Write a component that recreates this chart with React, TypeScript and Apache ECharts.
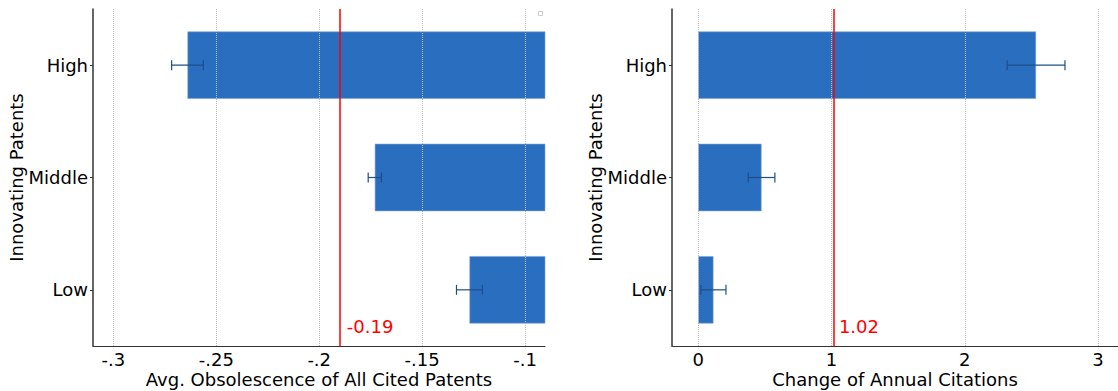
import React, { useEffect, useRef } from "react";
import * as echarts from "echarts";

const categories = ["High", "Middle", "Low"];
const obsolescence = [-0.264, -0.173, -0.127];
const obsolescenceErr = [0.0077, 0.0032, 0.0063];
const obsolescenceMean = -0.189;
const obsolescenceTicks = [-0.3, -0.25, -0.2, -0.15, -0.1];

const citations = [2.535, 0.475, 0.114];
const citationsErr = [0.217, 0.1, 0.094];
const citationsMean = 1.018;
const citationsTicks = [0, 1, 2, 3];

const FONT = "DejaVu Sans";
const FS = 18;
const BAR = "#2a6ebf";
const ERR = "#1f4e89";
const GRID = "#bdbdbd";

function fmtObs(v: number) {
  const s = v.toString();
  return s.replace("0.", ".");
}

export default function App() {
  const ref = useRef<HTMLDivElement>(null);
  useEffect(() => {
    if (!ref.current) return;
    const chart = echarts.init(ref.current, undefined, { renderer: "svg" });

    const errRender = (params: any, api: any) => {
      const idx = api.value(0);
      const lo = api.value(1);
      const hi = api.value(2);
      const p1 = api.coord([lo, idx]);
      const p2 = api.coord([hi, idx]);
      const h = 5;
      const st = { stroke: ERR, lineWidth: 1.2 };
      return {
        type: "group",
        children: [
          { type: "line", shape: { x1: p1[0], y1: p1[1], x2: p2[0], y2: p2[1] }, style: st },
          { type: "line", shape: { x1: p1[0], y1: p1[1] - h, x2: p1[0], y2: p1[1] + h }, style: st },
          { type: "line", shape: { x1: p2[0], y1: p2[1] - h, x2: p2[0], y2: p2[1] + h }, style: st },
        ],
      };
    };

    const yAxisBase = (gridIndex: number) => ({
      type: "category",
      gridIndex,
      data: categories,
      inverse: true,
      name: "Innovating Patents",
      nameLocation: "middle",
      nameGap: 68,
      nameRotate: 90,
      nameMoveOverlap: false,
      nameTextStyle: { fontFamily: FONT, fontSize: FS, lineHeight: 18, color: "#000" },
      axisLine: { show: true, onZero: false, lineStyle: { color: "#333", width: 1.5 } },
      axisTick: { show: true, alignWithLabel: true, length: 3, lineStyle: { color: "#333" } },
      axisLabel: { fontFamily: FONT, fontSize: FS, lineHeight: 18, color: "#000", margin: 5 },
      splitLine: { show: false },
    });

    const xAxisBase = (gridIndex: number, min: number, max: number, ticks: number[], name: string, fmt: (v: number) => string) => ({
      type: "value",
      gridIndex,
      min,
      max,
      name,
      nameLocation: "middle",
      nameGap: 24,
      nameMoveOverlap: false,
      nameTextStyle: { fontFamily: FONT, fontSize: FS, lineHeight: 18, color: "#000" },
      axisLine: { show: true, onZero: false, lineStyle: { color: "#333", width: 1 } },
      axisTick: { show: false, customValues: ticks },
      axisLabel: { fontFamily: FONT, fontSize: FS, lineHeight: 18, color: "#000", margin: 4, customValues: ticks, formatter: fmt },
      splitLine: { show: false },
    });

    const gridSeries = (idx: number, ticks: number[]) => ({
      type: "line",
      xAxisIndex: idx,
      yAxisIndex: idx,
      data: [],
      z: 3,
      silent: true,
      markLine: {
        silent: true,
        symbol: ["none", "none"],
        label: { show: false },
        lineStyle: { color: GRID, type: "dotted", width: 1 },
        data: ticks.map((v) => ({ xAxis: v })),
      },
    });

    const errSeries = (idx: number, vals: number[], errs: number[], mean: number) => ({
      type: "custom",
      xAxisIndex: idx,
      yAxisIndex: idx,
      z: 5,
      renderItem: errRender,
      encode: { x: [1, 2], y: 0 },
      data: vals.map((v, i) => [i, v - errs[i], v + errs[i]]),
      markLine: {
        silent: true,
        symbol: ["none", "none"],
        label: { show: false },
        lineStyle: { color: "#ff0000", type: "solid", width: 1.5 },
        data: [{ xAxis: mean }],
      },
      markPoint: {
        symbol: "circle",
        symbolSize: 0,
        silent: true,
        label: {
          show: true,
          position: "right",
          distance: 5,
          offset: [0, 36.5],
          fontFamily: FONT,
          fontSize: FS,
          color: "#ff0000",
          formatter: mean.toFixed(2),
        },
        data: [{ coord: [mean, categories[2]] }],
      },
    });

    chart.setOption({
      animation: false,
      backgroundColor: "#fff",
      grid: [
        { left: 93, top: 9, width: 452, height: 337, containLabel: false, outerBoundsMode: "none" },
        { left: 672, top: 9, width: 446, height: 337, containLabel: false, outerBoundsMode: "none" },
      ],
      xAxis: [
        xAxisBase(0, -0.3099, -0.0903, obsolescenceTicks, "Avg. Obsolescence of All Cited Patents", fmtObs),
        xAxisBase(1, -0.197, 3.15, citationsTicks, "Change of Annual Citations", (v: number) => String(v)),
      ],
      yAxis: [yAxisBase(0), yAxisBase(1)],
      series: [
        {
          type: "bar",
          xAxisIndex: 0,
          yAxisIndex: 0,
          data: obsolescence,
          barWidth: "60%",
          clip: true,
          z: 2,
          itemStyle: { color: BAR, borderColor: "#7fa3d6", borderWidth: 0.6 },
        },
        gridSeries(0, obsolescenceTicks),
        errSeries(0, obsolescence, obsolescenceErr, obsolescenceMean),
        {
          type: "bar",
          xAxisIndex: 1,
          yAxisIndex: 1,
          data: citations,
          barWidth: "60%",
          clip: true,
          z: 2,
          itemStyle: { color: BAR, borderColor: "#7fa3d6", borderWidth: 0.6 },
        },
        gridSeries(1, citationsTicks),
        errSeries(1, citations, citationsErr, citationsMean),
      ],
      graphic: [
        { type: "rect", left: 538, top: 11, shape: { width: 4, height: 4 }, style: { fill: "#fff", stroke: "#cccccc", lineWidth: 1 } },
      ],
    });

    return () => chart.dispose();
  }, []);

  return (
    <div
      ref={ref}
      style={{ position: "fixed", left: 0, top: 0, width: 1118, height: 391, background: "#fff" }}
    />
  );
}
